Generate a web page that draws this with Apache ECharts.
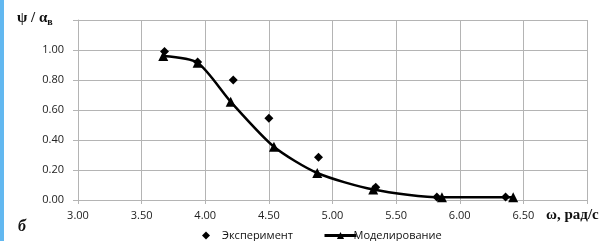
<!DOCTYPE html>
<html>
<head>
<meta charset="utf-8">
<script src="https://cdn.jsdelivr.net/npm/echarts@6/dist/echarts.min.js"></script>
<style>
  html, body { margin: 0; padding: 0; background: #fff; }
  #chart { width: 610px; height: 241px; }
  .side { position: absolute; left: 0; top: 0; width: 4px; height: 241px; background: #62b8f0; }
</style>
</head>
<body>
<div class="side"></div>
<div id="chart"></div>
<script>
// данные
const expOmega = [3.68, 3.94, 4.22, 4.50, 4.89, 5.34, 5.82, 6.36];
const expPsi = [0.99, 0.92, 0.80, 0.545, 0.285, 0.085, 0.02, 0.02];
const modOmega = [3.67, 3.94, 4.20, 4.54, 4.88, 5.32, 5.86, 6.42];
const modPsi = [0.96, 0.915, 0.655, 0.355, 0.18, 0.07, 0.018, 0.018];
const xTicks = [3.0, 3.5, 4.0, 4.5, 5.0, 5.5, 6.0, 6.5, 7.0];
const yTicks = [0, 0.2, 0.4, 0.6, 0.8, 1.0, 1.2];

const chart = echarts.init(document.getElementById('chart'));

const labelFont = { color: '#222', fontSize: 11, fontFamily: 'Open Sans' };
const gridColor = '#b4b4b4';
const legendText = { color: '#111', fontSize: 11, fontFamily: 'Open Sans' };

const option = {
  animation: false,
  grid: { left: 78, right: 23, top: 20, bottom: 41 },
  xAxis: {
    type: 'value',
    min: xTicks[0],
    max: xTicks[xTicks.length - 1],
    interval: 0.5,
    axisLine: { show: true, lineStyle: { color: gridColor } },
    axisTick: { show: true, length: 4, lineStyle: { color: gridColor } },
    splitLine: { show: true, lineStyle: { color: gridColor, width: 1 } },
    axisLabel: {
      ...labelFont,
      margin: 10,
      formatter: (v) => (v >= 7 ? '' : v.toFixed(2))
    }
  },
  yAxis: {
    type: 'value',
    min: yTicks[0],
    max: yTicks[yTicks.length - 1],
    interval: 0.2,
    axisLine: { show: true, lineStyle: { color: gridColor } },
    axisTick: { show: true, length: 5, lineStyle: { color: gridColor } },
    splitLine: { show: true, lineStyle: { color: gridColor, width: 1 } },
    axisLabel: {
      ...labelFont,
      margin: 14,
      formatter: (v) => (v >= 1.19 ? '' : v.toFixed(2))
    }
  },
  legend: [
    {
      bottom: -5,
      left: 197,
      itemWidth: 8,
      itemHeight: 8,
      textStyle: { ...legendText, padding: [0, 0, 0, 7] },
      data: [{ name: 'Эксперимент', icon: 'diamond' }]
    },
    {
      bottom: -5,
      left: 318,
      itemWidth: 32,
      itemHeight: 9,
      lineStyle: { width: 3 },
      textStyle: { ...legendText, padding: [0, 0, 0, -8] },
      data: [{ name: 'Моделирование' }]
    }
  ],
  series: [
    {
      name: 'Эксперимент',
      type: 'scatter',
      symbol: 'diamond',
      symbolSize: 9,
      itemStyle: { color: '#000', opacity: 1 },
      data: expOmega.map((x, i) => [x, expPsi[i]]),
      z: 3
    },
    {
      name: 'Моделирование',
      type: 'line',
      smooth: 0.25,
      symbol: 'triangle',
      symbolSize: 10,
      itemStyle: { color: '#000' },
      lineStyle: { color: '#000', width: 2.5 },
      data: modOmega.map((x, i) => [x, modPsi[i]]),
      z: 2
    }
  ],
  graphic: [
    {
      type: 'text',
      left: 17,
      top: 11,
      style: {
        text: '{m|ψ / α}{s|в}',
        rich: {
          m: { fontFamily: 'Liberation Serif', fontWeight: 'bold', fontSize: 15, fill: '#111' },
          s: { fontFamily: 'Liberation Serif', fontWeight: 'bold', fontSize: 10, fill: '#111', padding: [8, 0, 0, 0] }
        }
      }
    },
    {
      type: 'text',
      left: 546,
      top: 208,
      style: {
        text: 'ω, рад/с',
        fontFamily: 'Liberation Serif',
        fontWeight: 'bold',
        fontSize: 15,
        fill: '#111'
      }
    },
    {
      type: 'text',
      left: 18,
      top: 219,
      style: {
        text: 'б',
        fontFamily: 'Liberation Serif',
        fontWeight: 'bold',
        fontStyle: 'italic',
        fontSize: 16,
        fill: '#111'
      }
    }
  ]
};

chart.setOption(option);
</script>
</body>
</html>
